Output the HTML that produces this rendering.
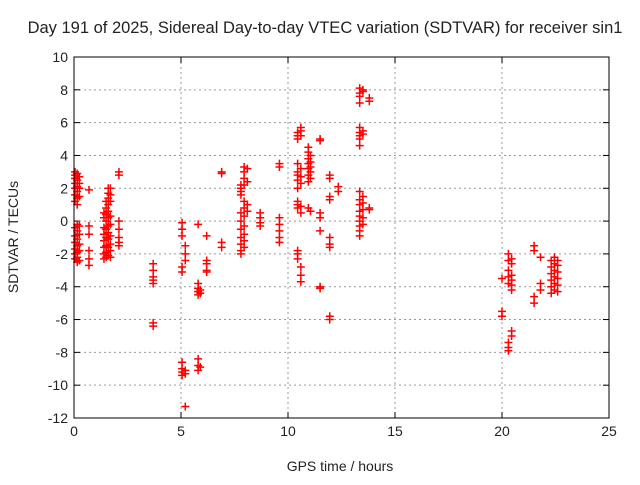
<!DOCTYPE html>
<html><head><meta charset="utf-8"><style>
body{margin:0;background:#fff}
svg text{font-family:"Liberation Sans",sans-serif;font-size:14px;fill:#222}
</style></head><body>
<svg id="chart" width="640" height="480">
<text x="325" y="33" text-anchor="middle" style="font-size:16.5px">Day 191 of 2025, Sidereal Day-to-day VTEC variation (SDTVAR) for receiver sin1</text>
<text x="340" y="471" text-anchor="middle">GPS time / hours</text>
<text transform="translate(18,237) rotate(-90)" text-anchor="middle">SDTVAR / TECUs</text>
<g id="grid"></g><g id="marks"></g>
<rect x="74" y="57" width="535" height="361" fill="none" stroke="#000"/>
</svg>
<script>
const xTicks=[0,5,10,15,20,25];
const yTicks=[10,8,6,4,2,0,-2,-4,-6,-8,-10,-12];
const clusterHours=[0.05,0.15,0.25,0.7,1.4,1.5,1.6,1.7,2.1,3.7,5.05,5.2,5.8,5.9,6.2,6.9,7.8,7.95,8.1,8.7,9.6,10.45,10.6,10.95,11.05,11.5,11.95,12.35,13.35,13.5,13.8,20.0,20.3,20.45,21.5,21.8,22.3,22.45,22.6];
const clusterValues=[
[3.0,2.8,2.6,2.3,2.0,1.6,1.2,-0.4,-0.9,-1.3,-1.7,-2.0,-2.3],
[2.9,2.5,2.1,1.8,1.4,1.0,-0.2,-0.6,-1.1,-1.5,-1.9,-2.2,-2.5],
[2.7,2.3,2.0,1.5,-0.3,-0.8,-1.4,-1.8,-2.4],
[1.9,-0.3,-0.8,-1.8,-2.3,-2.7],
[0.5,0.2,-0.4,-0.8,-1.2,-1.6,-2.0,-2.3],
[1.2,0.8,0.4,0,-0.5,-1.0,-1.5,-1.9,-2.2],
[2.0,1.7,1.4,1.0,0.6,0.2,-0.3,-0.7,-1.1,-1.6,-2.1],
[2.0,1.6,1.2,0.3,-0.2,-0.9,-1.4,-1.8,-2.2],
[3.0,2.8,0,-0.5,-1.0,-1.3,-1.5],
[-2.6,-3.0,-3.4,-3.6,-3.8,-6.2,-6.4],
[-0.1,-0.5,-0.9,-2.8,-3.1,-8.6,-9.0,-9.2,-9.4],
[-1.5,-2.0,-2.4,-9.1,-9.3,-11.3],
[-0.2,-3.8,-4.1,-4.3,-4.5,-8.4,-8.8,-9.1],
[-4.2,-4.4,-8.9],
[-0.9,-2.4,-2.6,-3.0,-3.1],
[3.0,2.9,-1.3,-1.6],
[2.2,2.0,1.8,1.6,0.5,0,-0.5,-1.0,-1.4,-1.8,-2.0],
[3.3,3.0,2.6,2.2,1.2,0.8,0.3,-0.3,-0.8,-1.2,-1.6],
[3.2,2.4,1.0,0.6],
[0.5,0.2,-0.1,-0.3],
[3.5,3.3,0.2,-0.2,-0.6,-1.0,-1.3],
[5.4,5.2,5.0,3.5,3.0,2.8,2.5,2.0,1.2,1.0,0.8,-1.8,-2.0,-2.3],
[5.7,5.5,5.2,3.2,2.7,2.3,0.9,0.5,-2.8,-3.3,-3.7],
[4.5,4.2,3.8,3.5,3.2,2.8,2.4,0.8],
[4.0,3.6,3.3,3.0,2.6,0.6],
[5.0,4.9,0.5,0.2,-0.6,-4.0,-4.1],
[2.8,2.6,1.5,1.3,-1.0,-1.4,-1.6,-5.8,-6.0],
[2.1,1.8],
[8.1,7.8,7.6,7.2,5.7,5.4,5.2,5.0,4.6,1.8,1.3,1.0,0.6,0.3,0,-0.3,-0.6,-0.9],
[8.0,7.9,5.5,5.3,1.5,1.1,0.7,0.2,-0.2],
[7.5,7.3,0.8,0.7],
[-3.5,-5.5,-5.8],
[-2.0,-2.4,-3.0,-3.4,-3.8,-7.4,-7.7,-7.9],
[-2.3,-2.6,-3.3,-3.6,-3.9,-4.2,-6.7,-7.0],
[-1.5,-1.8,-4.6,-5.0],
[-2.2,-3.8,-4.2],
[-2.4,-2.8,-3.2,-3.6,-4.0,-4.4],
[-2.2,-2.6,-3.0,-3.4,-3.8,-4.2],
[-2.4,-2.7,-3.1,-3.5,-3.9,-4.3]
];
const L=74,R=609,T=57,B=418;
const xS=h=>L+(h-0)/25*(R-L);
const yS=v=>B-(v+12)/22*(B-T);
const NS="http://www.w3.org/2000/svg";
const grid=document.getElementById('grid'),marks=document.getElementById('marks');
function mk(tag,attrs,parent){const e=document.createElementNS(NS,tag);for(const k in attrs)e.setAttribute(k,attrs[k]);parent.appendChild(e);return e;}
xTicks.forEach(t=>{const x=xS(t);
 if(t>0&&t<25){const g=mk('line',{x1:x,x2:x,y1:T,y2:B,stroke:'#999','stroke-dasharray':'2,3'},grid);
 
 }
 mk('line',{x1:x,x2:x,y1:B,y2:B-6,stroke:'#000'},grid);mk('line',{x1:x,x2:x,y1:T,y2:T+6,stroke:'#000'},grid);
 const tx=mk('text',{x:x,y:B+18,'text-anchor':'middle'},grid);tx.textContent=t;
 
 });
yTicks.forEach(t=>{const y=yS(t);
 if(t>-12&&t<10){const g=mk('line',{x1:L,x2:R,y1:y,y2:y,stroke:'#999','stroke-dasharray':'2,3'},grid);
 
 }
 mk('line',{x1:L,x2:L+6,y1:y,y2:y,stroke:'#000'},grid);mk('line',{x1:R,x2:R-6,y1:y,y2:y,stroke:'#000'},grid);
 const tx=mk('text',{x:L-6,y:y+5,'text-anchor':'end'},grid);tx.textContent=t;
 
 });
clusterHours.forEach((h,i)=>{clusterValues[i].forEach(v=>{const x=xS(h),y=yS(v);
 const p=mk('path',{d:`M${x-4},${y}h8M${x},${y-4}v8`,stroke:'#f00','stroke-width':1.5,fill:'none'},marks);
 
 });});
</script>
</body></html>
